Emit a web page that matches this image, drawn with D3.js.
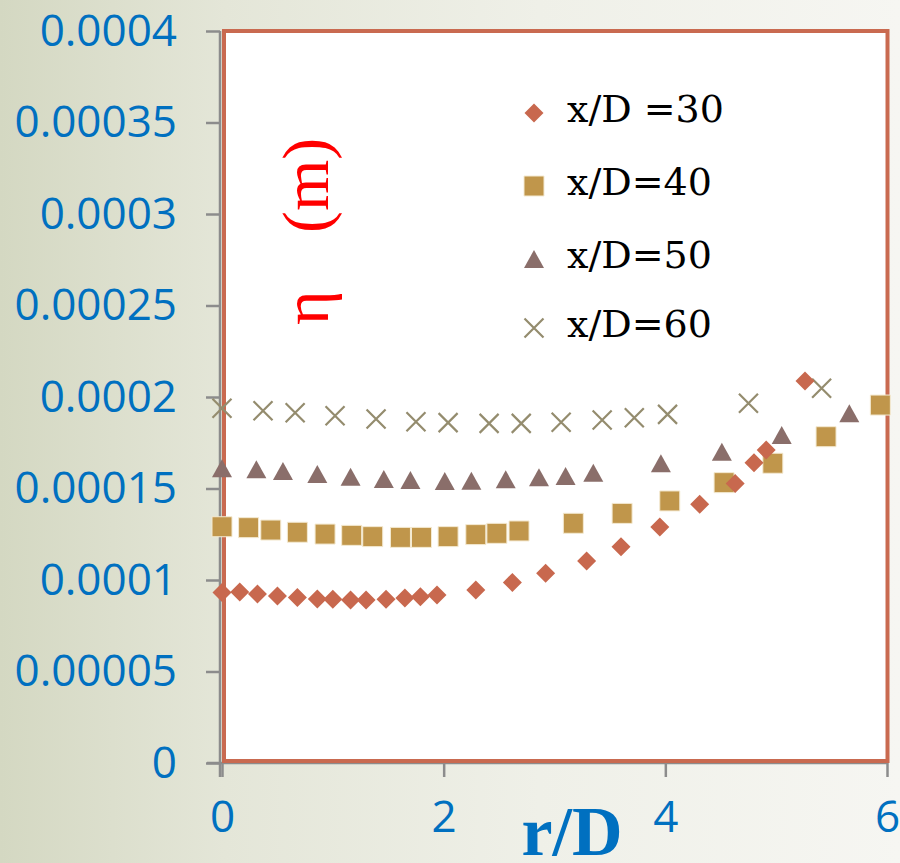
<!DOCTYPE html>
<html>
<head>
<meta charset="utf-8">
<script src="https://cdn.jsdelivr.net/npm/d3@7"></script>
<style>
  html, body { margin: 0; padding: 0; overflow: hidden; }
  svg { display: block; }
</style>
</head>
<body>
<svg class="chart"></svg>
<script>
// values, r/D on x and eta (m) on y
var seriesNames = ["x/D =30", "x/D=40", "x/D=50", "x/D=60"];

var r30 = [0, 0.16, 0.32, 0.5, 0.68, 0.86, 1.0, 1.16, 1.3, 1.48, 1.65, 1.79, 1.94,
           2.29, 2.62, 2.92, 3.29, 3.60, 3.95, 4.31, 4.63, 4.80, 4.91, 5.26];
var eta30 = [0.0000932, 0.0000934, 0.0000923, 0.0000912, 0.0000904, 0.0000896, 0.0000895,
             0.0000891, 0.0000891, 0.0000895, 0.0000902, 0.0000909, 0.0000918,
             0.0000945, 0.0000987, 0.0001037, 0.0001104, 0.0001182, 0.000129,
             0.0001414, 0.0001528, 0.0001641, 0.000171, 0.0002087];

var r40 = [0, 0.24, 0.44, 0.68, 0.93, 1.17, 1.36, 1.61, 1.80, 2.04, 2.29, 2.48, 2.68,
           3.17, 3.61, 4.04, 4.53, 4.97, 5.45, 5.94];
var eta40 = [0.0001291, 0.0001286, 0.0001273, 0.0001261, 0.0001251, 0.0001244, 0.0001237,
             0.0001233, 0.0001233, 0.0001237, 0.0001248, 0.0001255, 0.0001268,
             0.000131, 0.0001364, 0.0001432, 0.0001532, 0.0001638, 0.0001783, 0.0001956];

var r50 = [0, 0.31, 0.55, 0.86, 1.16, 1.46, 1.70, 2.01, 2.25, 2.56, 2.86, 3.10, 3.35,
           3.96, 4.51, 5.05, 5.66];
var eta50 = [0.000161, 0.0001605, 0.0001596, 0.0001579, 0.0001564, 0.0001552, 0.0001546,
             0.0001541, 0.0001543, 0.000155, 0.0001561, 0.0001568, 0.0001586,
             0.0001638, 0.0001701, 0.0001792, 0.0001911];

var r60 = [0, 0.37, 0.66, 1.02, 1.39, 1.75, 2.04, 2.41, 2.70, 3.06, 3.43, 3.72, 4.02,
           4.75, 5.41];
var eta60 = [0.0001938, 0.0001925, 0.0001914, 0.0001898, 0.000188, 0.0001865, 0.000186,
             0.0001856, 0.0001856, 0.0001862, 0.0001874, 0.0001887, 0.0001905,
             0.0001966, 0.0002048];

var xTicks = [0, 2, 4, 6];
var yTicks = [0, 0.00005, 0.0001, 0.00015, 0.0002, 0.00025, 0.0003, 0.00035, 0.0004];
var yTickLabels = ["0", "0.00005", "0.0001", "0.00015", "0.0002", "0.00025", "0.0003", "0.00035", "0.0004"];

var Chart = (function(){

  var that = {},
    svg,
    xScale,
    yScale,
    width = 900,
    height = 863,
    frame = {left: 224, right: 887.5, top: 31, bottom: 761},
    colors = ["#c8684e", "#c0964b", "#8a6e6a", "#948c6e"];

  // marker shapes, all centred on their bounding box
  var shapes = [
    {draw: function(c){ c.moveTo(0,-9.5); c.lineTo(9.5,0); c.lineTo(0,9.5); c.lineTo(-9.5,0); c.closePath(); }},
    {draw: function(c){ c.rect(-10,-10,20,20); }},
    {draw: function(c){ c.moveTo(0,-9); c.lineTo(10,9); c.lineTo(-10,9); c.closePath(); }},
    {draw: function(c){ c.moveTo(-9.5,-9.5); c.lineTo(9.5,9.5); c.moveTo(9.5,-9.5); c.lineTo(-9.5,9.5); }}
  ];

  function initialize(){
    svg = d3.select(".chart")
            .attr("width", width)
            .attr("height", height);

    makeBackground();

    xScale = d3.scaleLinear().domain([0, 6]).range([222, 887]);
    yScale = d3.scaleLinear().domain([0, 0.0004]).range([763, 31]);

    makeAxis();
    makeFrame();
    makePoints();
    makeLegend();
    makeLabels();
  }

  function makeBackground(){
    var grad = svg.append("defs").append("linearGradient")
                  .attr("id", "bg")
                  .attr("x1", 0).attr("x2", 1).attr("y1", 0).attr("y2", 0);
    grad.append("stop").attr("offset", "0").attr("stop-color", "#d4d8c2");
    grad.append("stop").attr("offset", "0.25").attr("stop-color", "#e4e6d8");
    grad.append("stop").attr("offset", "0.6").attr("stop-color", "#eff0e8");
    grad.append("stop").attr("offset", "1").attr("stop-color", "#f6f6f2");
    svg.append("rect")
       .attr("width", width)
       .attr("height", height)
       .attr("fill", "url(#bg)");
  }

  function makeAxis(){
    var gy = svg.append("g")
                .attr("transform", "translate(220,0)")
                .call(d3.axisLeft(yScale)
                        .tickValues(yTicks)
                        .tickSize(14)
                        .tickSizeOuter(0)
                        .tickPadding(29)
                        .tickFormat(function(d, i){ return yTickLabels[i]; }));

    var gx = svg.append("g")
                .attr("transform", "translate(0,763)")
                .call(d3.axisBottom(xScale)
                        .tickValues(xTicks)
                        .tickSize(14)
                        .tickSizeOuter(0)
                        .tickPadding(24)
                        .tickFormat(d3.format("d")));

    [gy, gx].forEach(function(g){
      g.selectAll("path, line").attr("stroke", "#8c8c8c").attr("stroke-width", 2.5);
      g.selectAll("text")
       .attr("fill", "#0070c0")
       .style("font-family", "'Open Sans', sans-serif")
       .style("font-size", "44px");
    });
    gx.select(".domain").attr("d", "M207,0H887");
    gy.select(".domain").attr("d", "M0,31V777");
  }

  function makeFrame(){
    svg.append("rect")
       .attr("x", frame.left)
       .attr("y", frame.top)
       .attr("width", frame.right - frame.left)
       .attr("height", frame.bottom - frame.top)
       .attr("fill", "white")
       .attr("stroke", "#c96a50")
       .attr("stroke-width", 4);
  }

  function makePoints(){
    var series = [
      {r: r30, eta: eta30},
      {r: r40, eta: eta40},
      {r: r50, eta: eta50},
      {r: r60, eta: eta60}
    ];

    // draw last series first so the diamonds sit on top like in the original
    [3, 2, 1, 0].forEach(function(s){
      var pts = series[s].r.map(function(d, i){ return {r: d, eta: series[s].eta[i]}; });
      svg.append("g")
         .selectAll("path")
         .data(pts)
         .enter().append("path")
         .attr("transform", function(d){ return "translate(" + xScale(d.r) + "," + yScale(d.eta) + ")"; })
         .call(styleMarker, s);
    });
  }

  function styleMarker(sel, s){
    sel.attr("d", d3.symbol().type(shapes[s]).size(1)());
    if(s == 3){
      sel.attr("fill", "none").attr("stroke", colors[s]).attr("stroke-width", 2.2);
    } else {
      sel.attr("fill", colors[s]);
      if(s == 1){
        sel.attr("stroke", "#f4ead2").attr("stroke-width", 1);
      }
    }
  }

  function makeLegend(){
    var rows = [113, 186, 259, 328];
    var leg = svg.append("g");
    seriesNames.forEach(function(name, i){
      leg.append("path")
         .attr("transform", "translate(534," + rows[i] + ")")
         .call(styleMarker, i);
      leg.append("text")
         .attr("x", 567)
         .attr("y", rows[i] + 9)
         .attr("fill", "#000")
         .style("font-family", "'DejaVu Serif', serif")
         .style("font-size", "38px")
         .text(name);
    });
  }

  function makeLabels(){
    // x axis title
    svg.append("text")
       .attr("x", 572)
       .attr("y", 855)
       .attr("text-anchor", "middle")
       .attr("fill", "#0070c0")
       .style("font-family", "'Liberation Serif', serif")
       .style("font-weight", "bold")
       .style("font-size", "70px")
       .text("r/D");

    // y axis title, turned, sitting inside the plot
    var t = svg.append("text")
               .attr("transform", "translate(328,325) rotate(-90)")
               .attr("fill", "#ff0000")
               .style("font-family", "'Liberation Serif', serif")
               .style("font-size", "66px");
    t.append("tspan").attr("x", 0).text("η");
    t.append("tspan").attr("x", 92).text("(m)");
  }

  that.init = initialize;
  return that;

})();

Chart.init();
</script>
</body>
</html>
